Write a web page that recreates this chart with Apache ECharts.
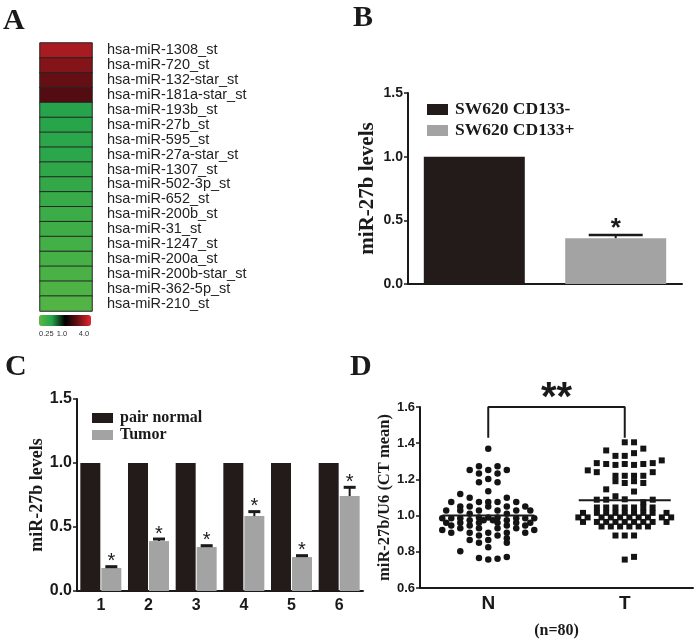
<!DOCTYPE html>
<html><head><meta charset="utf-8">
<script src="https://cdn.jsdelivr.net/npm/echarts@6/dist/echarts.min.js"></script>
<style>html,body{margin:0;padding:0;background:#fff}#c{width:698px;height:640px}</style>
</head><body><div id="c"></div>
<script>
const SERIF = "'Liberation Serif','Times New Roman',serif";
const SANS = "'Liberation Sans',Arial,sans-serif";
const INK = '#1a1a1a';
const BLACK = '#231a1a';
const GREY = '#a3a3a3';

// ---------- Panel A: heatmap ----------
const heatGenes = ['hsa-miR-1308_st','hsa-miR-720_st','hsa-miR-132-star_st','hsa-miR-181a-star_st',
  'hsa-miR-193b_st','hsa-miR-27b_st','hsa-miR-595_st','hsa-miR-27a-star_st','hsa-miR-1307_st',
  'hsa-miR-502-3p_st','hsa-miR-652_st','hsa-miR-200b_st','hsa-miR-31_st','hsa-miR-1247_st',
  'hsa-miR-200a_st','hsa-miR-200b-star_st','hsa-miR-362-5p_st','hsa-miR-210_st'];
// log2 fold change (estimated from colour)
const heatValues = [1.51, 1.2, 0.95, 0.78, -1.05, -1.08, -1.12, -1.15, -1.2, -1.25, -1.35, -1.42,
  -1.48, -1.55, -1.6, -1.68, -1.74, -1.8];
const scaleLabels = ['0.25', '1.0', '4.0'];

// ---------- Panel B ----------
const groupsB = ['SW620 CD133-', 'SW620 CD133+'];
const valuesB = [1.0, 0.36];
const errB = [0, 0.025];

// ---------- Panel C ----------
const catsC = ['1', '2', '3', '4', '5', '6'];
const groupsC = ['pair normal', 'Tumor'];
const normalC = [1, 1, 1, 1, 1, 1];
const tumorC = [0.18, 0.39, 0.344, 0.585, 0.265, 0.742];
const tumorErrC = [0.01, 0.016, 0.01, 0.035, 0.011, 0.068];

// ---------- Panel D ----------
const catsD = ['N', 'T'];
const meansD = [1.0, 1.085];
// [jitter (fraction of category width), value]
const pointsN = [
  [0,1.37],
  [-0.068,1.272],[0.068,1.272],
  [-0.136,1.252],[0,1.252],[0.136,1.252],
  [-0.068,1.232],[0.068,1.232],
  [0,1.202],
  [-0.068,1.184],[0.068,1.184],
  [0,1.134],
  [-0.205,1.12],
  [-0.136,1.098],[0.136,1.098],
  [-0.271,1.075],[-0.068,1.075],[0,1.075],[0.068,1.075],[0.205,1.075],
  [-0.205,1.05],[-0.136,1.05],[0,1.05],[0.136,1.05],[0.271,1.05],
  [-0.308,1.028],[-0.205,1.028],[-0.068,1.028],[0.068,1.028],[0.205,1.028],[0.308,1.028],
  [-0.136,1.01],[0.136,1.01],
  [-0.337,0.985],[-0.271,0.985],[-0.205,0.985],[-0.068,0.99],[0,0.99],[0.068,0.99],[0.205,0.985],[0.271,0.985],[0.337,0.985],
  [-0.136,0.975],[-0.034,0.975],[0.034,0.975],[0.136,0.975],
  [-0.308,0.96],[-0.205,0.96],[-0.068,0.96],[0.068,0.96],[0.205,0.96],[0.308,0.96],
  [-0.271,0.945],[-0.136,0.945],[0.136,0.945],[0.271,0.945],
  [-0.205,0.93],[-0.068,0.93],[0.068,0.93],[0.205,0.93],
  [-0.337,0.92],[0.337,0.92],
  [-0.271,0.905],[-0.136,0.905],[0,0.905],[0.136,0.905],[0.271,0.905],
  [-0.068,0.89],[0.068,0.89],
  [0.136,0.875],
  [-0.136,0.865],[0,0.865],
  [-0.068,0.85],[0.136,0.85],
  [0,0.825],
  [-0.205,0.803],
  [-0.068,0.766],[0,0.757],[0.068,0.762],[0.136,0.771]
];
const pointsT = [
  [0,1.405],[0.068,1.405],
  [0.136,1.37],
  [-0.136,1.36],
  [0.068,1.345],
  [-0.068,1.33],[0,1.33],
  [0.271,1.305],
  [-0.205,1.29],[0.205,1.29],
  [-0.136,1.285],[-0.068,1.28],[0,1.285],[0.068,1.28],[0.136,1.285],
  [-0.271,1.25],
  [-0.205,1.24],[0.205,1.24],
  [-0.068,1.22],[0,1.22],[0.068,1.22],[0.136,1.22],
  [-0.068,1.19],[0.068,1.19],
  [0,1.18],[0.136,1.18],
  [-0.136,1.145],
  [0.068,1.133],
  [-0.068,1.107],
  [-0.205,1.088],[-0.136,1.088],[0,1.09],[0.205,1.088],
  [0.136,1.074],
  [-0.204,1.045],[-0.136,1.045],[-0.068,1.045],[0,1.045],[0.068,1.045],[0.136,1.045],[0.204,1.045],
  [-0.306,1.015],[-0.204,1.015],[-0.136,1.015],[-0.068,1.015],[0,1.015],[0.068,1.015],[0.136,1.015],[0.204,1.015],[0.306,1.015],
  [-0.340,0.99],[-0.272,0.99],[-0.170,0.99],[-0.102,0.99],[-0.034,0.99],[0.034,0.99],[0.102,0.99],[0.170,0.99],[0.272,0.99],[0.340,0.99],
  [-0.306,0.965],[-0.204,0.965],[-0.136,0.965],[-0.068,0.965],[0,0.965],[0.068,0.965],[0.136,0.965],[0.204,0.965],[0.306,0.965],
  [-0.170,0.94],[-0.102,0.94],[-0.034,0.94],[0.034,0.94],[0.102,0.94],[0.170,0.94],
  [-0.068,0.89],[0,0.89],[0.068,0.89],
  [0.068,0.772],[0,0.757]
];
const bracketD = { from: 0, to: 1, top: 1.6, foot: 1.43, label: '**' };
const sampleNote = '(n=80)';

// ---------- style constants ----------
const BAR_B_W = 101, BAR_B_GAP = 0.4;
const BAR_C_W = 20, BAR_C_GAP = 0.05;

const chart = echarts.init(document.getElementById('c'), null, { renderer: 'canvas' });

function valAxis(grid, min, max, interval, fs, name, nameSize, nameGap) {
  return {
    type: 'value', gridIndex: grid, min: min, max: max, interval: interval,
    axisLine: { show: true, lineStyle: { color: INK, width: 2 } },
    axisTick: { show: true, length: 4, lineStyle: { color: INK, width: 1.5 } },
    splitLine: { show: false },
    axisLabel: { margin: 5, color: INK, fontFamily: SANS, fontWeight: 'bold', fontSize: fs,
      formatter: v => (+v).toFixed(1) },
    name: name, nameLocation: 'middle', nameGap: nameGap, nameRotate: 90,
    nameTextStyle: { fontFamily: SERIF, fontWeight: 'bold', fontSize: nameSize, color: INK }
  };
}

const option = {
  animation: false,
  backgroundColor: '#fff',
  grid: [
    { left: 40, top: 43, width: 52, height: 268 },
    { left: 408, top: 93, width: 274, height: 191 },
    { left: 77, top: 399, width: 286, height: 192 },
    { left: 420, top: 407, width: 273, height: 181 }
  ],
  xAxis: [
    { type: 'category', gridIndex: 0, data: ['fold change'], show: false },
    { type: 'category', gridIndex: 1, data: [''],
      axisLine: { lineStyle: { color: INK, width: 2 } }, axisTick: { show: false }, axisLabel: { show: false } },
    { type: 'category', gridIndex: 2, data: catsC,
      axisLine: { lineStyle: { color: INK, width: 2 } },
      axisTick: { alignWithLabel: true, length: 5, lineStyle: { color: INK, width: 1.5 } },
      axisLabel: { margin: 7, color: INK, fontFamily: SANS, fontWeight: 'bold', fontSize: 16 } },
    { type: 'category', gridIndex: 3, data: catsD,
      axisLine: { lineStyle: { color: INK, width: 2 } },
      axisTick: { alignWithLabel: true, length: 5, lineStyle: { color: INK, width: 1.5 } },
      axisLabel: { margin: 6, color: INK, fontFamily: SANS, fontWeight: 'bold', fontSize: 19 },
      name: sampleNote, nameLocation: 'middle', nameGap: 35,
      nameTextStyle: { fontFamily: SERIF, fontWeight: 'bold', fontSize: 16, color: INK } },
    { type: 'value', gridIndex: 3, min: 0, max: 2, show: false }
  ],
  yAxis: [
    { type: 'category', gridIndex: 0, data: heatGenes, inverse: true, position: 'right',
      axisLine: { show: false }, axisTick: { show: false },
      axisLabel: { interval: 0, margin: 15, color: '#222', fontFamily: SANS, fontSize: 14.5 } },
    valAxis(1, 0, 1.5, 0.5, 14, 'miR-27b levels', 21, 30),
    valAxis(2, 0, 1.5, 0.5, 16, 'miR-27b levels', 18, 31),
    valAxis(3, 0.6, 1.6, 0.2, 13, 'miR-27b/U6 (CT mean)', 16.5, 24)
  ],
  visualMap: {
    type: 'continuous', seriesIndex: 0, min: -2, max: 2, orient: 'horizontal',
    left: 39, top: 315, itemWidth: 11, itemHeight: 52, padding: 0,
    calculable: false, text: null, hoverLink: false,
    inRange: { color: ['#5cb843', '#24a34b', '#000000', '#6a1016', '#e4262c'] }
  },
  legend: [
    { data: groupsB, left: 422, top: 94, orient: 'vertical', itemWidth: 21, itemHeight: 11, itemGap: 0,
      icon: 'rect', selectedMode: false,
      textStyle: { fontFamily: SERIF, fontWeight: 'bold', fontSize: 17.5, color: INK, lineHeight: 21, padding: [0, 0, 0, 2] } },
    { data: groupsC, left: 87, top: 404.5, orient: 'vertical', itemWidth: 21, itemHeight: 10, itemGap: 0,
      icon: 'rect', selectedMode: false,
      textStyle: { fontFamily: SERIF, fontWeight: 'bold', fontSize: 16, color: INK, lineHeight: 17, padding: [0, 0, 0, 2] } }
  ],
  graphic: [
    { type: 'text', left: 3, top: 6, style: { text: 'A', font: 'bold 30px ' + SERIF, fill: INK } },
    { type: 'text', left: 353, top: 3, style: { text: 'B', font: 'bold 30px ' + SERIF, fill: INK } },
    { type: 'text', left: 5, top: 352, style: { text: 'C', font: 'bold 30px ' + SERIF, fill: INK } },
    { type: 'text', left: 350, top: 352, style: { text: 'D', font: 'bold 30px ' + SERIF, fill: INK } },
    { type: 'text', x: 39, y: 334, style: { text: scaleLabels[0], font: '7.5px ' + SANS, fill: '#333', textVerticalAlign: 'middle' } },
    { type: 'text', x: 62, y: 334, style: { text: scaleLabels[1], font: '7.5px ' + SANS, fill: '#333', textAlign: 'center', textVerticalAlign: 'middle' } },
    { type: 'text', x: 84, y: 334, style: { text: scaleLabels[2], font: '7.5px ' + SANS, fill: '#333', textAlign: 'center', textVerticalAlign: 'middle' } }
  ],
  series: [
    { type: 'heatmap', xAxisIndex: 0, yAxisIndex: 0,
      data: heatValues.map((v, i) => [0, i, v]),
      itemStyle: { borderColor: '#262626', borderWidth: 1 }, emphasis: { disabled: true } },
    { type: 'bar', name: groupsB[0], xAxisIndex: 1, yAxisIndex: 1, data: [valuesB[0]],
      barWidth: BAR_B_W, barGap: (BAR_B_GAP * 100) + '%', itemStyle: { color: BLACK } },
    { type: 'bar', name: groupsB[1], xAxisIndex: 1, yAxisIndex: 1, data: [valuesB[1]],
      barWidth: BAR_B_W, barGap: (BAR_B_GAP * 100) + '%', itemStyle: { color: GREY } },
    { type: 'custom', xAxisIndex: 1, yAxisIndex: 1, z: 5,
      data: [[0, valuesB[1], valuesB[1] + errB[1]]],
      renderItem: function (params, api) {
        const c = api.coord([api.value(0), api.value(1)]);
        const t = api.coord([api.value(0), api.value(2)]);
        const x = c[0] + (BAR_B_W + BAR_B_W * BAR_B_GAP) / 2;
        return { type: 'group', children: [
          { type: 'line', shape: { x1: x, y1: c[1], x2: x, y2: t[1] }, style: { stroke: INK, lineWidth: 2 } },
          { type: 'line', shape: { x1: x - 27, y1: t[1], x2: x + 27, y2: t[1] }, style: { stroke: INK, lineWidth: 2.5 } },
          { type: 'text', x: x, y: t[1] - 6, style: { text: '*', font: 'bold 26px ' + SANS, fill: INK, textAlign: 'center', textVerticalAlign: 'middle' } }
        ] };
      } },
    { type: 'bar', name: groupsC[0], xAxisIndex: 2, yAxisIndex: 2, data: normalC,
      barWidth: BAR_C_W, barGap: (BAR_C_GAP * 100) + '%', itemStyle: { color: BLACK } },
    { type: 'bar', name: groupsC[1], xAxisIndex: 2, yAxisIndex: 2, data: tumorC,
      barWidth: BAR_C_W, barGap: (BAR_C_GAP * 100) + '%', itemStyle: { color: GREY } },
    { type: 'custom', xAxisIndex: 2, yAxisIndex: 2, z: 5,
      data: tumorC.map((v, i) => [i, v, v + tumorErrC[i]]),
      renderItem: function (params, api) {
        const c = api.coord([api.value(0), api.value(1)]);
        const t = api.coord([api.value(0), api.value(2)]);
        const x = c[0] + (BAR_C_W + BAR_C_W * BAR_C_GAP) / 2;
        return { type: 'group', children: [
          { type: 'line', shape: { x1: x, y1: c[1], x2: x, y2: t[1] }, style: { stroke: INK, lineWidth: 2 } },
          { type: 'line', shape: { x1: x - 6, y1: t[1], x2: x + 6, y2: t[1] }, style: { stroke: INK, lineWidth: 3 } },
          { type: 'text', x: x, y: t[1] - 5, style: { text: '*', font: '20px ' + SANS, fill: INK, textAlign: 'center', textVerticalAlign: 'middle' } }
        ] };
      } },
    { type: 'scatter', xAxisIndex: 4, yAxisIndex: 3, symbol: 'circle', symbolSize: 6.5,
      data: pointsN.map(p => [0.5 + p[0], p[1]]), itemStyle: { color: '#141414', opacity: 1 } },
    { type: 'scatter', xAxisIndex: 4, yAxisIndex: 3, symbol: 'rect', symbolSize: 6,
      data: pointsT.map(p => [1.5 + p[0], p[1]]), itemStyle: { color: '#141414', opacity: 1 } },
    { type: 'line', xAxisIndex: 4, yAxisIndex: 3, z: 6, symbol: 'none', silent: true,
      data: [[0.5 - 0.337, meansD[0]], [0.5 + 0.337, meansD[0]]], lineStyle: { color: INK, width: 2 } },
    { type: 'line', xAxisIndex: 4, yAxisIndex: 3, z: 6, symbol: 'none', silent: true,
      data: [[1.5 - 0.337, meansD[1]], [1.5 + 0.337, meansD[1]]], lineStyle: { color: INK, width: 2 } },
    { type: 'line', xAxisIndex: 4, yAxisIndex: 3, z: 6, symbol: 'none', silent: true,
      data: [[bracketD.from + 0.5, bracketD.foot], [bracketD.from + 0.5, bracketD.top],
             [bracketD.to + 0.5, bracketD.top], [bracketD.to + 0.5, bracketD.foot]],
      lineStyle: { color: INK, width: 2 } },
    { type: 'custom', xAxisIndex: 4, yAxisIndex: 3, z: 6,
      data: [[(bracketD.from + bracketD.to) / 2 + 0.5, bracketD.top]],
      renderItem: function (params, api) {
        const p = api.coord([api.value(0), api.value(1)]);
        return { type: 'text', x: p[0], y: p[1] - 8,
          style: { text: bracketD.label, font: 'bold 40px ' + SANS, fill: INK, textAlign: 'center', textVerticalAlign: 'middle' } };
      } }
  ]
};
chart.setOption(option);
</script></body></html>
